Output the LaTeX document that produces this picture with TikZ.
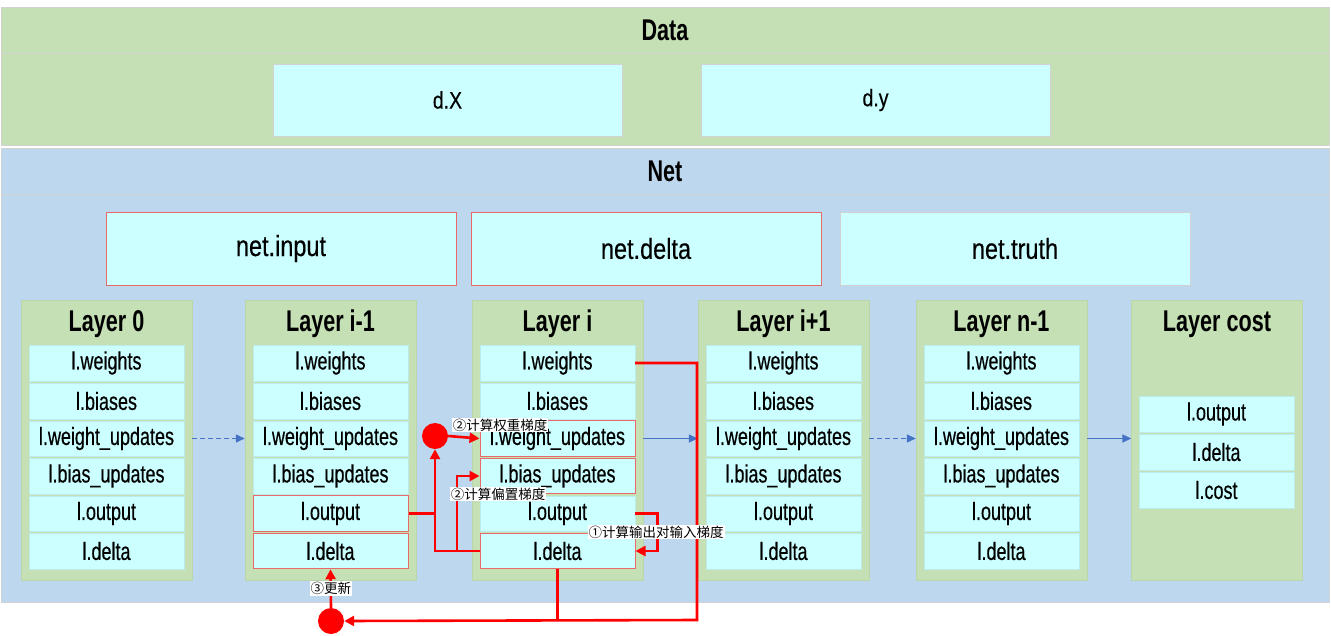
\documentclass[tikz,border=0pt]{standalone}
\usepackage{fontspec}
\setmainfont{Liberation Sans}
\newfontfamily\condf[FakeStretch=0.81,FakeBold=0.4]{Liberation Sans}
\newfontfamily\condc[FakeStretch=0.72,FakeBold=0.4]{Liberation Sans}
\newfontfamily\condb[FakeStretch=0.72]{Liberation Sans}
\newfontfamily\cjk{Noto Sans CJK SC}
\usetikzlibrary{arrows.meta}
\definecolor{gfill}{HTML}{C5E0B4}
\definecolor{bfill}{HTML}{BDD7EE}
\definecolor{cfill}{HTML}{CCFFFF}
\definecolor{rline}{HTML}{FF0000}
\definecolor{rbord}{HTML}{E86A6A}
\definecolor{gbord}{HTML}{D2D2D2}
\definecolor{barrow}{HTML}{4472C4}
\begin{document}
\begin{tikzpicture}[x=1pt,y=-1pt,
  band/.style={draw=gbord, line width=0.8pt, inner sep=0pt, minimum width=1328},
  bigtitle/.style={font=\condb\bfseries\fontsize{30}{32}\selectfont},
  layerbox/.style={fill=gfill, draw=gfill!95!black, line width=0.4pt, minimum width=171, minimum height=280, inner sep=0pt},
  ltitle/.style={inner sep=0pt, font=\condb\bfseries\fontsize{30}{32}\selectfont},
  cell/.style={fill=cfill, draw=cfill!92!black, line width=0.4pt, minimum width=155, minimum height=35.5, inner sep=0pt, font=\condc\fontsize{25}{27}\selectfont},
  redcell/.style={draw=rbord, line width=1pt},
  dbox/.style={fill=cfill, draw=gbord, line width=0.8pt, minimum width=349, minimum height=72, inner sep=0pt, font=\condf\fontsize{24}{26}\selectfont},
  nbox/.style={fill=cfill, draw=gbord, line width=0.8pt, minimum width=350, minimum height=73, inner sep=0pt, font=\condf\fontsize{29}{31}\selectfont},
  redline/.style={draw=rline, line width=2.6pt},
  redarrow/.style={redline, -{Triangle[length=10pt,width=10pt]}},
  bluearrow/.style={draw=barrow, line width=1.4pt, -{Triangle[length=9pt,width=8pt]}},
  bluedash/.style={bluearrow, dash pattern=on 5pt off 3pt},
  lab/.style={fill=white, inner sep=1pt, font=\cjk\fontsize{13.5}{15}\selectfont},
  dot/.style={circle, fill=rline, minimum size=26, inner sep=0pt}
]
\useasboundingbox (0,0) rectangle (1331,635);
% Data band
\node[band, fill=gfill, minimum height=46, bigtitle] (datat) at (665,30) {Data};
\node[band, fill=gfill, minimum height=92] (datab) at (665,99) {};
\node[dbox] (dX) at (447.5,100) {d.X};
\node[dbox] (dy) at (875.5,100) {d.y};
% Net band
\node[band, fill=bfill, minimum height=46, bigtitle] (nett) at (665,171) {Net};
\node[band, fill=bfill, minimum height=408] (netb) at (665,398) {};
\node[nbox, draw=rbord, line width=1pt] (ninput) at (281,248.5) {net.input};
\node[nbox, draw=rbord, line width=1pt] (ndelta) at (646,248.5) {net.delta};
\node[nbox] (ntruth) at (1015,248.5) {net.truth};
% Layers
\foreach \n/\x/\t in {A/106.5/Layer 0, B/330.5/Layer i-1, C/557.5/Layer i, D/783.5/Layer i+1, E/1001.5/Layer n-1}{
  \node[layerbox] (G\n) at (\x,440) {};
  \node[ltitle] (T\n) at (\x,324) {\t};
}
\node[layerbox] (GF) at (1217,440) {};
\node[ltitle] (TF) at (1217,324) {Layer cost};
% cells
\foreach \n/\x in {A/106.5, D/783.5, E/1001.5}{
  \node[cell] (\n w) at (\x,363) {l.weights};
  \node[cell] (\n b) at (\x,401) {l.biases};
  \node[cell] (\n wu) at (\x,438.5) {l.weight\_updates};
  \node[cell] (\n bu) at (\x,476) {l.bias\_updates};
  \node[cell] (\n o) at (\x,513.5) {l.output};
  \node[cell] (\n d) at (\x,551) {l.delta};
}
\node[cell] (Bw) at (330.5,363) {l.weights};
\node[cell] (Bb) at (330.5,401) {l.biases};
\node[cell] (Bwu) at (330.5,438.5) {l.weight\_updates};
\node[cell] (Bbu) at (330.5,476) {l.bias\_updates};
\node[cell, redcell] (Bo) at (330.5,513.5) {l.output};
\node[cell, redcell] (Bd) at (330.5,551) {l.delta};
\node[cell] (Cw) at (557.5,363) {l.weights};
\node[cell] (Cb) at (557.5,401) {l.biases};
\node[cell, redcell] (Cwu) at (557.5,438.5) {l.weight\_updates};
\node[cell, redcell] (Cbu) at (557.5,476) {l.bias\_updates};
\node[cell] (Co) at (557.5,513.5) {l.output};
\node[cell, redcell] (Cd) at (557.5,551) {l.delta};
\node[cell] (Fo) at (1216.5,414) {l.output};
\node[cell] (Fd) at (1216.5,452) {l.delta};
\node[cell] (Fc) at (1216.5,490) {l.cost};
% blue arrows
\draw[bluedash] (GA.east |- Awu) -- (GB.west |- Awu);
\draw[bluearrow] (GC.east |- Cwu) -- (GD.west |- Cwu);
\draw[bluedash] (GD.east |- Dwu) -- (GE.west |- Dwu);
\draw[bluearrow] (GE.east |- Ewu) -- (GF.west |- Ewu);
% red dots
\node[dot] (P1) at (435,436) {};
\node[dot] (P2) at (331,621) {};
\coordinate (br) at (697,620);
\coordinate (bj) at (457,551);
% red connectors
\draw[redline] (Cd.south) -- (Cd.south |- br);
\draw[redarrow] (Cw.east) -| (br) -- (P2.east);
\draw[redarrow] (P2.north) -- node[lab] (l3) {③更新} (Bd.south);
\draw[redline] (Bo.east) -- (Bo.east -| P1);
\draw[redarrow] (Cd.west) -| (P1.south);
\draw[redarrow] (bj) |- (Cbu.west);
\draw[redarrow] (P1.east) -- (Cwu.west);
\draw[redarrow] (Co.east) -- ++(22,0) |- (Cd.east);
\node[lab] (l2a) at (500,425) {②计算权重梯度};
\node[lab] (l2b) at (498,494) {②计算偏置梯度};
\node[lab] (l1) at (656,532) {①计算输出对输入梯度};
\end{tikzpicture}
\end{document}
